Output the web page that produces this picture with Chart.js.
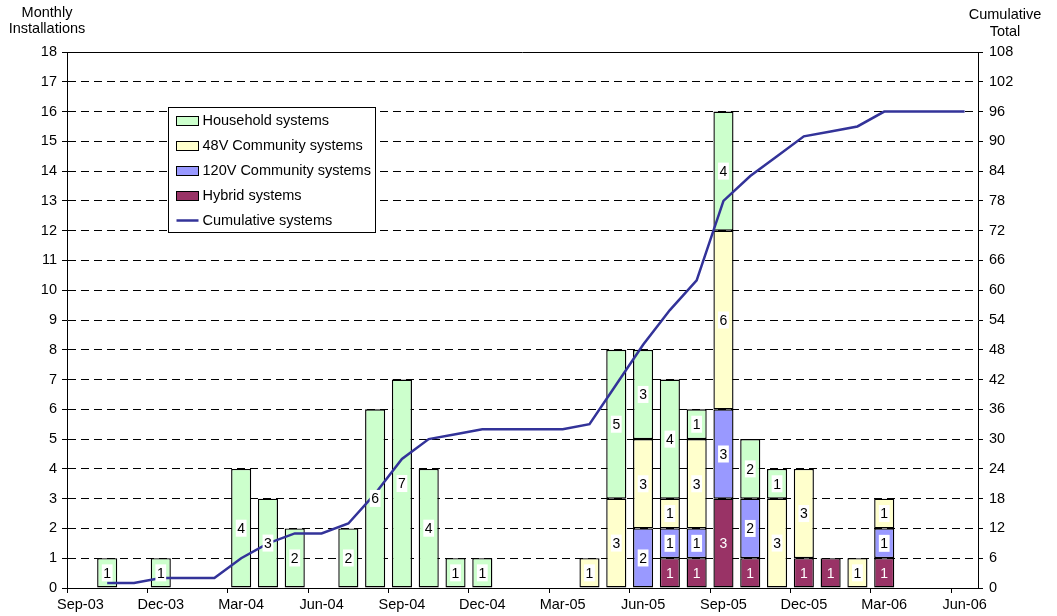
<!DOCTYPE html>
<html>
<head>
<meta charset="utf-8">
<script src="https://cdn.jsdelivr.net/npm/chart.js@4.4.1/dist/chart.umd.min.js"></script>
<style>
  body { margin: 0; background: #fff; }
  #wrap { width: 1057px; height: 616px; position: relative; }
</style>
</head>
<body>
<div id="wrap"><canvas id="myChart"></canvas></div>
<script>
// monthly data, Sep-03 .. Jun-06
const months = ['Sep-03','Oct-03','Nov-03','Dec-03','Jan-04','Feb-04','Mar-04','Apr-04','May-04','Jun-04',
  'Jul-04','Aug-04','Sep-04','Oct-04','Nov-04','Dec-04','Jan-05','Feb-05','Mar-05','Apr-05',
  'May-05','Jun-05','Jul-05','Aug-05','Sep-05','Oct-05','Nov-05','Dec-05','Jan-06','Feb-06',
  'Mar-06','Apr-06','May-06','Jun-06'];

const household = [null,1,null,1,null,null,4,3,2,null, 2,6,7,4,1,1,null,null,null,null,
  5,3,4,1,4,2,1,null,null,null, null,null,null,null];
const community48 = [null,null,null,null,null,null,null,null,null,null, null,null,null,null,null,null,null,null,null,1,
  3,3,1,3,6,null,3,3,null,1, 1,null,null,null];
const community120 = [null,null,null,null,null,null,null,null,null,null, null,null,null,null,null,null,null,null,null,null,
  null,2,1,1,3,2,null,null,null,null, 1,null,null,null];
const hybrid = [null,null,null,null,null,null,null,null,null,null, null,null,null,null,null,null,null,null,null,null,
  null,null,1,1,3,1,null,1,1,null, 1,null,null,null];
const cumulative = [null,1,1,2,2,2,6,9,11,11, 13,19,26,30,31,32,32,32,32,33,
  41,49,56,62,78,83,87,91,92,93, 96,96,96,96];

const FONT = '"Liberation Sans", Arial, sans-serif';
Chart.defaults.font.family = FONT;
Chart.defaults.font.size = 14.5;
Chart.defaults.color = '#000';

// numbers inside the bar segments
const segLabels = {
  id: 'segLabels',
  afterDatasetsDraw(chart) {
    const ctx = chart.ctx;
    ctx.save();
    ctx.font = '14px ' + FONT;
    ctx.textAlign = 'center';
    ctx.textBaseline = 'middle';
    chart.data.datasets.forEach((ds, i) => {
      if (ds.type === 'line') return;
      const whiteText = ds.label === 'Hybrid systems';
      chart.getDatasetMeta(i).data.forEach((bar, j) => {
        const v = ds.data[j];
        if (!v) return;
        const y = (bar.y + bar.base) / 2;
        const txt = String(v);
        const w = ctx.measureText(txt).width;
        if (whiteText) {
          ctx.fillStyle = '#fff';
        } else {
          ctx.fillStyle = '#fff';
          ctx.fillRect(bar.x - w / 2 - 1.5, y - 8.5, w + 3, 17);
          ctx.fillStyle = '#000';
        }
        ctx.fillText(txt, bar.x, y + 1);
      });
    });
    ctx.restore();
  }
};

// legend box, axis titles, solid top edge
const extras = {
  id: 'extras',
  afterDraw(chart) {
    const ctx = chart.ctx;
    const a = chart.chartArea;
    ctx.save();
    ctx.strokeStyle = '#000';
    ctx.lineWidth = 1;
    ctx.beginPath();
    ctx.moveTo(a.left, Math.round(a.top) + 0.5);
    ctx.lineTo(a.right, Math.round(a.top) + 0.5);
    ctx.stroke();

    ctx.font = '14.5px ' + FONT;
    ctx.fillStyle = '#000';
    ctx.textAlign = 'center';
    ctx.textBaseline = 'middle';
    ctx.fillText('Monthly', a.left - 20, a.top - 39);
    ctx.fillText('Installations', a.left - 20, a.top - 23);
    ctx.fillText('Cumulative', a.right + 27, a.top - 37);
    ctx.fillText('Total', a.right + 27, a.top - 20);

    // legend
    const bx = Math.round(a.left + 101) + 0.5, by = Math.round(a.top + 55) + 0.5;
    ctx.fillStyle = '#fff';
    ctx.fillRect(bx, by, 207, 125);
    ctx.strokeRect(bx, by, 207, 125);
    const order = ['Household systems', '48V Community systems', '120V Community systems', 'Hybrid systems', 'Cumulative systems'];
    ctx.textAlign = 'left';
    order.forEach((name, k) => {
      const ds = chart.data.datasets.find(d => d.label === name);
      const cy = by + 13 + k * 25;
      if (ds.type === 'line') {
        ctx.strokeStyle = ds.borderColor;
        ctx.lineWidth = 2.5;
        ctx.beginPath();
        ctx.moveTo(bx + 8, cy);
        ctx.lineTo(bx + 30, cy);
        ctx.stroke();
      } else {
        ctx.fillStyle = ds.backgroundColor;
        ctx.fillRect(bx + 8, cy - 4, 22, 9);
        ctx.strokeStyle = '#000';
        ctx.lineWidth = 1;
        ctx.strokeRect(bx + 8, cy - 4, 22, 9);
      }
      ctx.fillStyle = '#000';
      ctx.fillText(name, bx + 34, cy);
    });
    ctx.restore();
  }
};

const config = {
  data: {
    labels: months,
    datasets: [
      {
        type: 'line',
        label: 'Cumulative systems',
        data: cumulative,
        yAxisID: 'y1',
        borderColor: '#333399',
        borderWidth: 2.5,
        pointRadius: 0,
        tension: 0,
        order: 0
      },
      { type: 'bar', label: 'Hybrid systems', data: hybrid, backgroundColor: '#993366', order: 1 },
      { type: 'bar', label: '120V Community systems', data: community120, backgroundColor: '#9999FF', order: 1 },
      { type: 'bar', label: '48V Community systems', data: community48, backgroundColor: '#FFFFCC', order: 1 },
      { type: 'bar', label: 'Household systems', data: household, backgroundColor: '#CCFFCC', order: 1 }
    ]
  },
  options: {
    responsive: true,
    maintainAspectRatio: false,
    animation: false,
    layout: { padding: { top: 52, left: 0, right: 0, bottom: 0 } },
    datasets: {
      bar: {
        borderColor: '#000',
        borderWidth: 1.4,
        borderSkipped: false,
        categoryPercentage: 1,
        barPercentage: 0.75
      }
    },
    plugins: {
      legend: { display: false },
      tooltip: { enabled: false }
    },
    scales: {
      x: {
        stacked: true,
        afterFit: s => { s.height = 28; },
        grid: {
          offset: true,
          drawOnChartArea: false,
          tickLength: 5,
          color: c => (c.index % 3 === 0 ? '#000' : 'rgba(0,0,0,0)')
        },
        border: { color: '#000', width: 1 },
        ticks: {
          autoSkip: false,
          maxRotation: 0,
          padding: 3,
          callback: (v, i) => (i % 3 === 0 ? months[i] : '')
        }
      },
      y: {
        stacked: true,
        position: 'left',
        min: 0,
        max: 18,
        afterFit: s => { s.width = 67; },
        ticks: { stepSize: 1, padding: 5 },
        grid: { color: '#000', tickLength: 5, tickBorderDash: [] },
        border: { color: '#000', width: 1, dash: [8, 5] }
      },
      y1: {
        position: 'right',
        min: 0,
        max: 108,
        afterFit: s => { s.width = 79; },
        ticks: { stepSize: 6, padding: 6 },
        grid: { drawOnChartArea: false, color: '#000', tickLength: 5 },
        border: { color: '#000', width: 1 }
      }
    }
  },
  plugins: [segLabels, extras]
};

const myChart = new Chart(document.getElementById('myChart'), config);
</script>
</body>
</html>
